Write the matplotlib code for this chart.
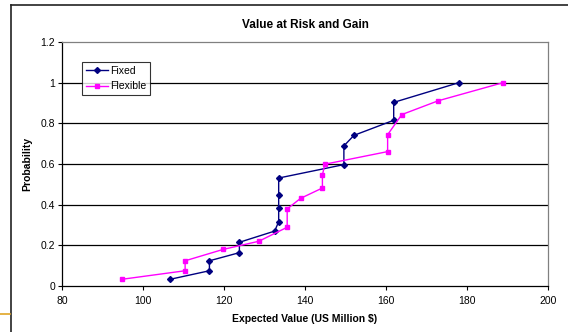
import matplotlib
matplotlib.use("Agg")
import matplotlib.pyplot as plt
from matplotlib.lines import Line2D

plt.rcParams['font.family'] = ['Liberation Sans', 'DejaVu Sans']

# Cumulative probability curves of expected value
fixed_value = [106.7, 116.4, 116.4, 123.8, 123.8, 132.5, 133.5, 133.5, 133.5, 133.5,
               149.6, 149.6, 152.1, 161.9, 161.9, 178.0]
fixed_prob = [0.033, 0.075, 0.124, 0.164, 0.215, 0.27, 0.316, 0.382, 0.446, 0.531,
              0.597, 0.689, 0.741, 0.815, 0.903, 1.0]

flexible_value = [94.8, 110.4, 110.4, 119.8, 128.6, 135.6, 135.6, 138.9, 144.3, 144.3,
                  144.9, 160.4, 160.4, 163.9, 172.9, 188.9]
flexible_prob = [0.033, 0.075, 0.124, 0.18, 0.22, 0.289, 0.379, 0.431, 0.482, 0.546,
                 0.599, 0.661, 0.744, 0.843, 0.911, 1.0]

x_ticks = [80, 100, 120, 140, 160, 180, 200]
y_ticks = [0, 0.2, 0.4, 0.6, 0.8, 1, 1.2]
y_tick_labels = ["0", "0.2", "0.4", "0.6", "0.8", "1", "1.2"]

W, H = 568, 332
fig = plt.figure(figsize=(W / 100, H / 100), dpi=100)
fig.patch.set_facecolor("white")

ax = fig.add_axes([62 / W, 1 - 286 / H, (548 - 62) / W, (286 - 42) / H])

ax.plot(fixed_value, fixed_prob, color="#000080", lw=1.0, marker="D",
        markersize=3.0, markerfacecolor="#000080", markeredgecolor="#000080",
        label="Fixed", zorder=3)
ax.plot(flexible_value, flexible_prob, color="#FF00FF", lw=1.0, marker="s",
        markersize=3.5, markerfacecolor="#FF00FF", markeredgecolor="#FF00FF",
        label="Flexible", zorder=3)

ax.set_xlim(80, 200)
ax.set_ylim(0, 1.2)
ax.set_xticks(x_ticks)
ax.set_xticklabels([str(v) for v in x_ticks])
ax.set_yticks(y_ticks)
ax.set_yticklabels(y_tick_labels)

# Horizontal gridlines at the inner ticks
for y in y_ticks[1:-1]:
    ax.axhline(y, color="black", lw=0.9, zorder=1)

ax.spines["left"].set_color("black")
ax.spines["bottom"].set_color("black")
ax.spines["top"].set_color("#808080")
ax.spines["right"].set_color("#808080")
for s in ax.spines.values():
    s.set_linewidth(0.9)

ax.tick_params(axis="both", direction="out", length=3, width=0.8,
               labelsize=7.5, colors="black", pad=2)
ax.tick_params(axis="x", pad=4)

ax.set_title("Value at Risk and Gain", fontsize=8.5, fontweight="bold", pad=10)
ax.set_xlabel("Expected Value (US Million $)", fontsize=7.5, fontweight="bold", labelpad=6)
ax.set_ylabel("Probability", fontsize=7.5, fontweight="bold", labelpad=6)

leg = ax.legend(loc="upper left", bbox_to_anchor=(0.041, 0.918), fontsize=7.5,
                frameon=True, fancybox=False, handlelength=2.2, handletextpad=0.15,
                borderpad=0.35, labelspacing=0.55, borderaxespad=0)
leg.get_frame().set_edgecolor("black")
leg.get_frame().set_linewidth(0.8)

# Outer frame and side accent line
fig.add_artist(Line2D([11 / W, 11 / W], [0, 1 - 5 / H], color="#222222", lw=1.2))
fig.add_artist(Line2D([11 / W, 1], [1 - 5 / H, 1 - 5 / H], color="#222222", lw=1.2))
fig.add_artist(Line2D([0, 10 / W], [1 - 314 / H, 1 - 314 / H], color="#E0A526", lw=1.2))

fig.savefig("out.png", dpi=100)
